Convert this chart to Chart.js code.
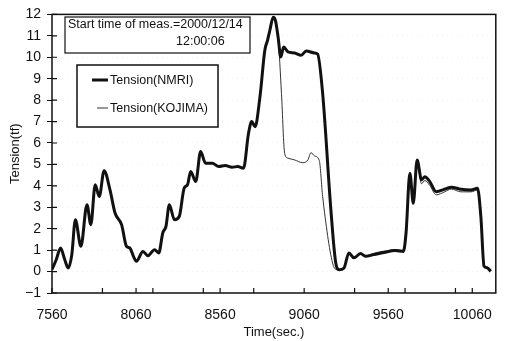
<!DOCTYPE html>
<html>
<head>
<meta charset="utf-8">
<script src="https://cdn.jsdelivr.net/npm/chart.js@4/dist/chart.umd.min.js"></script>
<style>
    html, body { margin: 0; padding: 0; background: #fff; }
    #wrap { width: 506px; height: 341px; position: relative; }
</style>
</head>
<body>
<div id="wrap"><canvas id="tensionChart" width="506" height="341"></canvas></div>
<script>
// time axis (sec.)
const xTicks = [7560, 8060, 8560, 9060, 9560, 10060];
const xMinorTicks = [7860, 8160, 8460, 8760, 9060, 9360, 9660, 9960];
const yTicks = [-1, 0, 1, 2, 3, 4, 5, 6, 7, 8, 9, 10, 11, 12];

const nmriTime = [
    7560, 7585, 7611, 7634, 7656, 7678, 7699, 7732, 7768, 7791, 7817, 7841, 7870, 7905, 7935,
    7974, 8003, 8023, 8045, 8062, 8101, 8131, 8170, 8195, 8219, 8238, 8258, 8288, 8317, 8346,
    8366, 8385, 8415, 8444, 8473, 8513, 8552, 8590, 8631, 8665, 8699, 8729, 8748, 8768, 8797,
    8826, 8842, 8856, 8876, 8889, 8905, 8921, 8938, 8964, 9003, 9042, 9072, 9121, 9140, 9170,
    9219, 9248, 9268, 9297, 9326, 9356, 9395, 9425, 9473, 9542, 9601, 9650, 9666, 9689, 9709,
    9732, 9758, 9778, 9807, 9846, 9895, 9935, 9993, 10052, 10091, 10111, 10130, 10150, 10170
];
const nmriValue = [
    0.10, 0.55, 1.10, 0.60, 0.17, 0.80, 2.42, 1.18, 3.12, 2.19, 4.05, 3.50, 4.71, 3.81, 2.73,
    2.19, 1.18, 1.10, 0.70, 0.48, 0.94, 0.74, 1.02, 0.87, 1.80, 2.11, 3.12, 2.42, 2.57, 3.89,
    4.05, 4.67, 4.20, 5.60, 5.06, 5.06, 4.90, 4.95, 4.87, 4.90, 4.82, 6.45, 7.00, 6.76, 8.15,
    10.33, 10.79, 11.26, 11.87, 11.72, 10.94, 10.01, 10.48, 10.25, 10.20, 10.09, 10.29, 10.20, 10.15, 8.31,
    2.88, 0.40, 0.09, 0.17, 0.87, 0.64, 0.84, 0.71, 0.79, 0.90, 0.98, 0.94, 1.80, 4.59, 3.19,
    5.21, 4.28, 4.43, 4.20, 3.73, 3.84, 3.94, 3.84, 3.81, 3.89, 2.57, 0.25, 0.17, 0.01
];

const kojimaTime = [
    7560, 7585, 7611, 7634, 7656, 7678, 7699, 7732, 7768, 7791, 7817, 7841, 7870, 7905, 7935,
    7974, 8003, 8023, 8045, 8062, 8101, 8131, 8170, 8195, 8219, 8238, 8258, 8288, 8317, 8346,
    8366, 8385, 8415, 8444, 8473, 8513, 8552, 8590, 8631, 8665, 8699, 8729, 8748, 8768, 8797,
    8826, 8842, 8856, 8876, 8889, 8905, 8925, 8944, 8964, 9003, 9052, 9082, 9101, 9121, 9150,
    9170, 9229, 9258, 9297, 9326, 9356, 9395, 9425, 9473, 9510, 9542, 9601, 9650, 9666, 9689,
    9709, 9732, 9758, 9778, 9807, 9846, 9895, 9935, 9993, 10052, 10091, 10111, 10130, 10150, 10170
];
const kojimaValue = [
    0.10, 0.55, 1.10, 0.60, 0.17, 0.80, 2.42, 1.18, 3.12, 2.19, 4.05, 3.50, 4.71, 3.81, 2.73,
    2.19, 1.18, 1.10, 0.70, 0.48, 0.94, 0.74, 1.02, 0.87, 1.80, 2.11, 3.12, 2.42, 2.57, 3.89,
    4.05, 4.67, 4.20, 5.60, 5.06, 5.06, 4.90, 4.95, 4.87, 4.90, 4.82, 6.45, 7.00, 6.76, 8.15,
    10.33, 10.79, 11.26, 11.87, 11.72, 10.94, 8.31, 5.52, 5.29, 5.21, 5.08, 5.21, 5.55, 5.40, 5.18,
    3.50, 0.40, 0.09, 0.17, 0.87, 0.66, 0.86, 0.75, 0.85, 0.92, 0.96, 1.03, 0.98, 1.80, 4.50,
    3.19, 5.10, 4.10, 4.25, 4.02, 3.58, 3.72, 3.85, 3.72, 3.72, 3.80, 2.45, 0.30, 0.22, 0.05
];

function toPoints(times, values) {
    return times.map((t, i) => ({ x: t, y: values[i] }));
}

// frame, inward ticks, info box and legend
const decorPlugin = {
    id: 'decor',
    afterDraw(chart) {
        const ctx = chart.ctx;
        const area = chart.chartArea;
        const xs = chart.scales.x;
        const ys = chart.scales.y;

        ctx.save();
        ctx.strokeStyle = '#111';
        ctx.lineWidth = 1.5;
        ctx.strokeRect(area.left, area.top, area.right - area.left, area.bottom - area.top);

        // inward ticks
        ctx.lineWidth = 1.2;
        ctx.beginPath();
        xTicks.concat(xMinorTicks).forEach(v => {
            const px = xs.getPixelForValue(v);
            ctx.moveTo(px, area.bottom);
            ctx.lineTo(px, area.bottom - 5);
        });
        yTicks.forEach(v => {
            const py = ys.getPixelForValue(v);
            ctx.moveTo(area.left, py);
            ctx.lineTo(area.left + 5, py);
        });
        ctx.stroke();

        // start time box
        ctx.fillStyle = '#fff';
        ctx.fillRect(65, 17, 185, 36);
        ctx.lineWidth = 1.2;
        ctx.strokeRect(65, 17, 185, 36);
        ctx.fillStyle = '#111';
        ctx.font = '12.5px "Liberation Sans", Arial, sans-serif';
        ctx.textBaseline = 'middle';
        ctx.textAlign = 'left';
        ctx.fillText('Start time of meas.=2000/12/14', 68, 25);
        ctx.fillText('12:00:06', 176, 42);

        // legend box
        ctx.fillStyle = '#fff';
        ctx.fillRect(77, 65, 141, 62);
        ctx.lineWidth = 1.5;
        ctx.strokeRect(77, 65, 141, 62);
        const rows = [{ y: 80, x0: 92 }, { y: 108, x0: 97 }];
        chart.data.datasets.forEach((ds, i) => {
            const r = rows[i];
            ctx.strokeStyle = ds.borderColor;
            ctx.lineWidth = ds.borderWidth;
            ctx.beginPath();
            ctx.moveTo(r.x0, r.y);
            ctx.lineTo(108, r.y);
            ctx.stroke();
            ctx.fillStyle = '#111';
            ctx.font = '12.5px "Liberation Sans", Arial, sans-serif';
            ctx.fillText(ds.label, 110, r.y + 1);
        });
        ctx.restore();
    }
};

const ctx = document.getElementById('tensionChart').getContext('2d');
new Chart(ctx, {
    type: 'line',
    data: {
        datasets: [
            {
                label: 'Tension(NMRI)',
                data: toPoints(nmriTime, nmriValue),
                borderColor: '#111',
                borderWidth: 3,
                pointRadius: 0,
                cubicInterpolationMode: 'monotone',
                fill: false
            },
            {
                label: 'Tension(KOJIMA)',
                data: toPoints(kojimaTime, kojimaValue),
                borderColor: '#333',
                borderWidth: 1,
                pointRadius: 0,
                cubicInterpolationMode: 'monotone',
                fill: false
            }
        ]
    },
    options: {
        responsive: false,
        animation: false,
        layout: { padding: { top: 13, right: 5, left: 8, bottom: 0 } },
        plugins: {
            legend: { display: false },
            tooltip: { enabled: false }
        },
        scales: {
            x: {
                type: 'linear',
                min: 7560,
                max: 10200,
                afterBuildTicks: scale => {
                    scale.ticks = xTicks.map(v => ({ value: v }));
                },
                afterFit: scale => { scale.height = 48; },
                grid: { drawOnChartArea: false, drawTicks: false },
                border: { display: false },
                ticks: {
                    color: '#111',
                    padding: 14,
                    maxRotation: 0,
                    font: { family: '"Liberation Sans", Arial, sans-serif', size: 14 },
                    callback: v => String(v)
                },
                title: {
                    display: true,
                    text: 'Time(sec.)',
                    color: '#111',
                    padding: { top: 0, bottom: 1 },
                    font: { family: '"Liberation Sans", Arial, sans-serif', size: 13 }
                }
            },
            y: {
                min: -1,
                max: 12,
                afterBuildTicks: scale => {
                    scale.ticks = yTicks.map(v => ({ value: v }));
                },
                afterFit: scale => { scale.width = 44; },
                grid: {
                    color: '#eeeeee',
                    lineWidth: 1,
                    tickLength: 5,
                    tickColor: '#111',
                    tickBorderDash: [],
                    drawTicks: true
                },
                border: { display: false, dash: [1, 4] },
                ticks: {
                    color: '#111',
                    padding: 6,
                    font: { family: '"Liberation Sans", Arial, sans-serif', size: 14 },
                    callback: v => (v < 0 ? '\u2212' + Math.abs(v) : String(v))
                },
                title: {
                    display: true,
                    text: 'Tension(tf)',
                    color: '#111',
                    padding: { top: 0, bottom: 0 },
                    font: { family: '"Liberation Sans", Arial, sans-serif', size: 13 }
                }
            }
        }
    },
    plugins: [decorPlugin]
});
</script>
</body>
</html>
